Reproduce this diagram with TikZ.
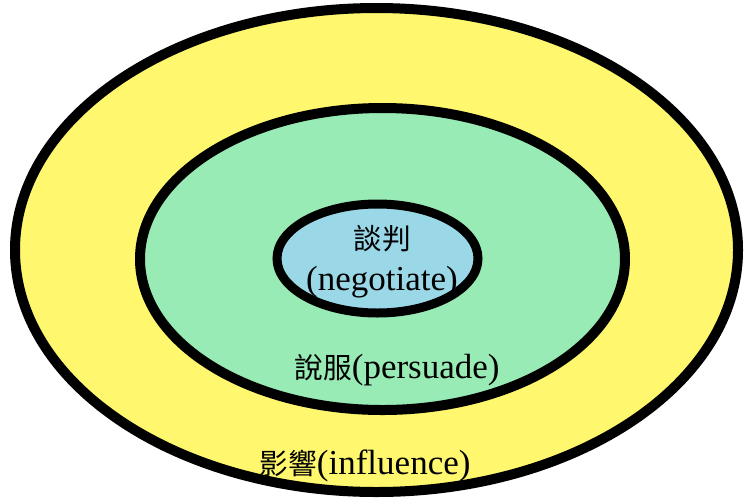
\documentclass[tikz,border=0pt]{standalone}
\usepackage{fontspec}
\setmainfont{Liberation Serif}
\newfontfamily\cjk[Scale=0.82]{Noto Sans CJK TC}
\usetikzlibrary{shapes.geometric}

\definecolor{influenceyellow}{HTML}{FFF76E}
\definecolor{persuadegreen}{HTML}{98EBB4}
\definecolor{negotiateblue}{HTML}{9AD8E8}

\tikzset{
	ring/.style={ellipse, draw=black, line width=10pt, inner sep=0pt},
	ringtext/.style={font=\fontsize{35}{41}\selectfont, inner sep=0pt, align=center}
}

\begin{document}
\begin{tikzpicture}[x=1pt, y=-1pt]
	\useasboundingbox ( 0, 0 ) rectangle ( 744, 499 );

	% кольца
	\node [ring, fill=influenceyellow, minimum width=723pt, minimum height=484pt] (influence) at ( 376.5, 250 ) {};
	\node [ring, fill=persuadegreen, minimum width=485pt, minimum height=302pt] (persuade) at ( 382.5, 259 ) {};
	\node [ring, fill=negotiateblue, line width=9pt, minimum width=201pt, minimum height=109pt] (negotiate) at ( 377.5, 258.5 ) {};

	% подписи
	\node [ringtext] (negotiatetext) at ( 382, 262 ) {{\cjk 談判}\\(negotiate)};
	\node [ringtext] (persuadetext) at ( 397, 370 ) {{\cjk 說服}(persuade)};
	\node [ringtext] (influencetext) at ( 365, 466 ) {{\cjk 影響}(influence)};
\end{tikzpicture}
\end{document}
